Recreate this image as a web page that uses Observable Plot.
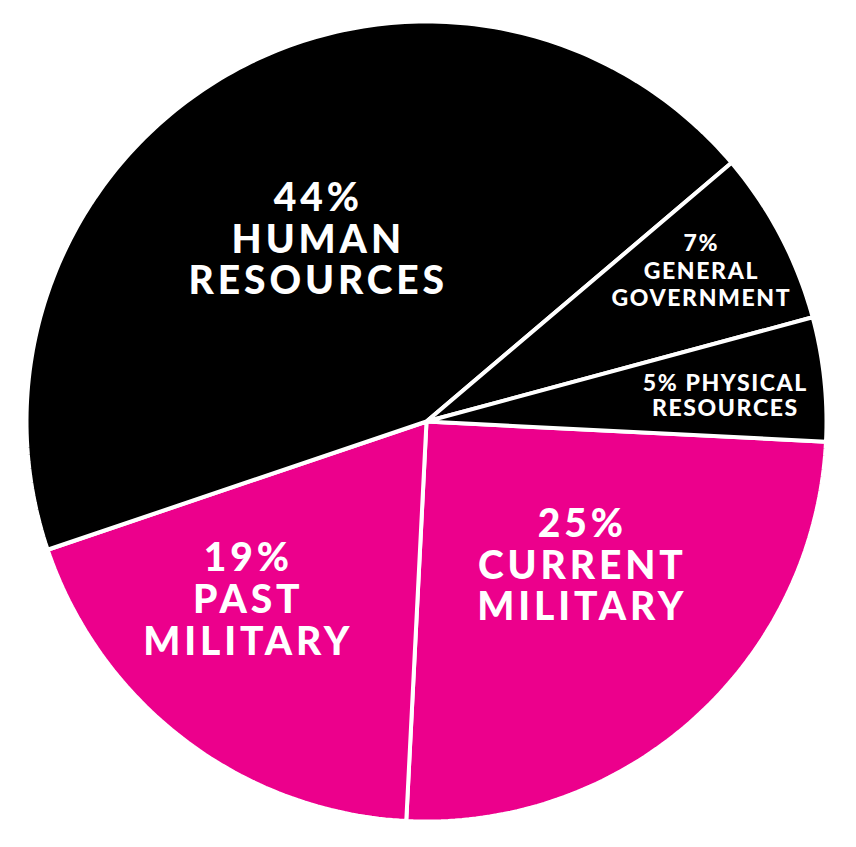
<!DOCTYPE html>
<html>
<head>
<meta charset="utf-8">
<script src="https://cdn.jsdelivr.net/npm/d3@7"></script>
<script src="https://cdn.jsdelivr.net/npm/@observablehq/plot@0.6"></script>
<style>
  html, body { margin: 0; padding: 0; background: #fff; }
  #chart svg { display: block; }
  #chart text { letter-spacing: 0.07em; }
  #chart g[font-size="39"] text { letter-spacing: 0.1em; }
</style>
</head>
<body>
<div id="chart"></div>
<script>
// Data (clockwise, starting just below 3 o'clock)
const categories = ["CURRENT MILITARY", "PAST MILITARY", "HUMAN RESOURCES", "GENERAL GOVERNMENT", "PHYSICAL RESOURCES"];
const shares = [25, 19, 44, 7, 5];
const labels = ["25%\nCURRENT\nMILITARY", "19%\nPAST\nMILITARY", "44%\nHUMAN\nRESOURCES", "7%\nGENERAL\nGOVERNMENT", "5% PHYSICAL\nRESOURCES"];
const groups = ["military", "military", "other", "other", "other"];

// Layout
const startDeg = 2.9;          // screen angle (clockwise from 3 o'clock) of first boundary
const PINK = "#EC008C";
const W = 856, H = 847;
const cx = 426, cy = 421, R = 400;

const total = d3.sum(shares);
let acc = startDeg * Math.PI / 180;
const slices = shares.map((v, i) => {
  const a0 = acc, a1 = acc + v / total * 2 * Math.PI;
  acc = a1;
  return {cat: categories[i], value: v, label: labels[i], group: groups[i], a0, a1};
});

// polygon vertices of each slice (center + arc), in unit coordinates, y pointing down
const pts = [];
for (const s of slices) {
  pts.push({cat: s.cat, group: s.group, x: 0, y: 0});
  const n = Math.max(8, Math.ceil((s.a1 - s.a0) / (Math.PI / 180)));
  for (let k = 0; k <= n; k++) {
    const a = s.a0 + (s.a1 - s.a0) * k / n;
    pts.push({cat: s.cat, group: s.group, x: Math.cos(a), y: Math.sin(a)});
  }
}

// label placement: radius fraction and angular tweak (deg) from mid-angle, font size
const labelLayout = {
  "CURRENT MILITARY":   {r: 0.53, da: -5.2, size: 39, lh: 1.065},
  "PAST MILITARY":      {r: 0.63, da: 7.9,  size: 39, lh: 1.065},
  "HUMAN RESOURCES":    {r: 0.53, da: -1.2, size: 39, lh: 1.065},
  "GENERAL GOVERNMENT": {r: 0.785, da: -1.2, size: 23, lh: 1.2},
  "PHYSICAL RESOURCES": {r: 0.75, da: 1.1, size: 23, lh: 1.1}
};
const labelRows = slices.map(s => {
  const L = labelLayout[s.cat];
  const a = (s.a0 + s.a1) / 2 + L.da * Math.PI / 180;
  return {label: s.label, size: L.size, lh: L.lh, x: L.r * Math.cos(a), y: L.r * Math.sin(a)};
});

const textOpts = {
  fill: "white",
  fontFamily: "Lato, 'Open Sans', sans-serif",
  fontWeight: 900,
  textAnchor: "middle"
};

const plot = Plot.plot({
  width: W,
  height: H,
  marginLeft: cx - R,
  marginRight: W - (cx + R),
  marginTop: cy - R,
  marginBottom: H - (cy + R),
  x: {domain: [-1, 1], axis: null},
  y: {domain: [-1, 1], reverse: true, axis: null},
  color: {domain: ["military", "other"], range: [PINK, "#000000"]},
  style: {background: "white"},
  marks: [
    Plot.line(pts, {
      x: "x", y: "y", z: "cat",
      fill: "group",
      stroke: "white",
      strokeWidth: 4,
      strokeLinejoin: "miter",
      curve: "linear-closed"
    }),
    ...labelRows.map(d => Plot.text([d], {
      x: "x", y: "y", text: "label",
      fontSize: d.size,
      lineHeight: d.lh,
      ...textOpts
    }))
  ]
});
document.getElementById("chart").appendChild(plot);
</script>
</body>
</html>
